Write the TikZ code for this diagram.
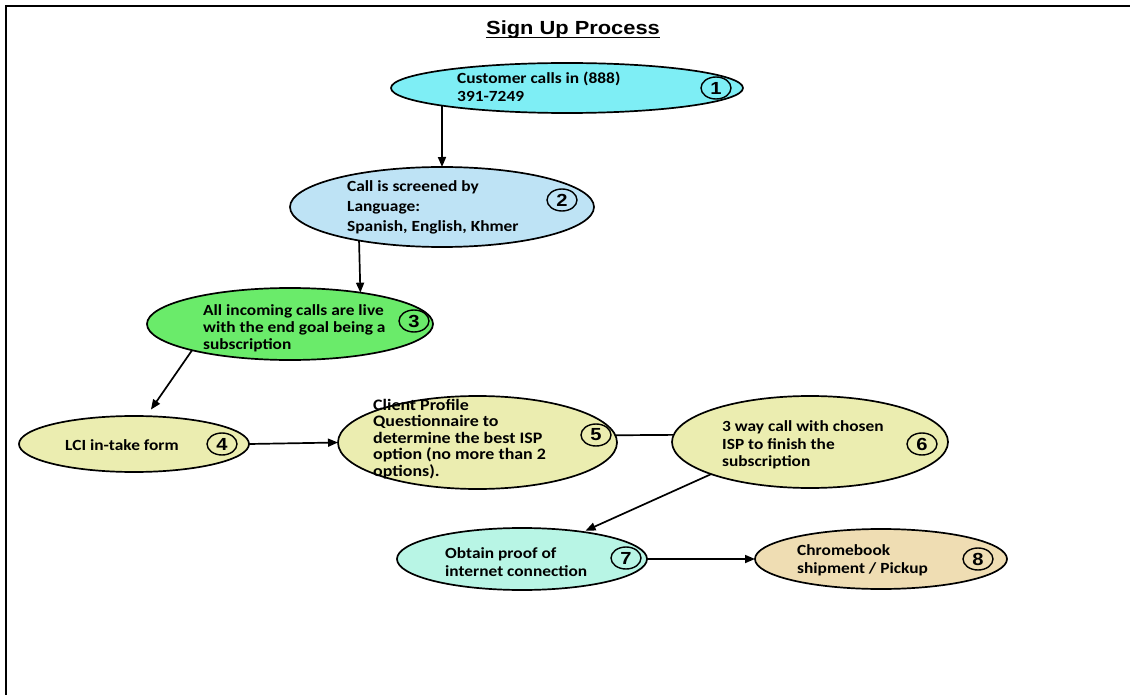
\documentclass[tikz,border=0pt]{standalone}
\usepackage{fontspec}
\setmainfont{Carlito}[FakeStretch=1.12]
\newfontfamily\headfont{Liberation Sans}[FakeStretch=1.15]
\usetikzlibrary{shapes.geometric,arrows.meta}

\definecolor{stepcyan}{HTML}{7EEEF5}
\definecolor{stepblue}{HTML}{BEE3F5}
\definecolor{stepgreen}{HTML}{6AEB6A}
\definecolor{stepolive}{HTML}{EBEDB0}
\definecolor{stepteal}{HTML}{B8F5E5}
\definecolor{steptan}{HTML}{EFDDB3}

\tikzset{
  stage/.style={ellipse, draw=black, line width=1.7pt, inner sep=0pt, outer sep=0pt},
  txt/.style={anchor=west, align=left, inner sep=0pt,
    font=\bfseries\fontsize{15.5}{18}\selectfont},
  num/.style={ellipse, draw=black, line width=1.4pt, fill=none, inner sep=0pt,
    minimum width=30pt, minimum height=22pt,
    font=\headfont\bfseries\fontsize{17.5}{17.5}\selectfont},
  arr/.style={line width=1.7pt, -{Triangle[length=10pt,width=8pt]}},
  link/.style={line width=1.7pt}
}

\begin{document}
\begin{tikzpicture}[x=1pt,y=-1pt]
  \useasboundingbox (0,0) rectangle (1130,695);
  \fill[white] (0,0) rectangle (1130,695);

  % page frame (top and left edges)
  \draw[line width=1.8pt] (1130,6) -- (6,6) -- (6,695);

  % heading
  \node[inner sep=0pt, font=\headfont\bfseries\fontsize{19}{19}\selectfont] (title) at (573,30) {Sign Up Process};
  \draw[line width=1.5pt] ([yshift=-2.8pt]title.base west) -- ([yshift=-2.8pt]title.base east);

  % process stages
  \node[stage, fill=stepcyan,  minimum width=352pt, minimum height=50pt] (e1) at (567,88) {};
  \node[stage, fill=stepblue,  minimum width=304pt, minimum height=80pt] (e2) at (442,207) {};
  \node[stage, fill=stepgreen, minimum width=286pt, minimum height=72pt] (e3) at (290,324) {};
  \node[stage, fill=stepolive, minimum width=230pt, minimum height=56pt] (e4) at (134,444) {};
  \node[stage, fill=stepolive, minimum width=279pt, minimum height=93pt] (e5) at (477.5,442.5) {};
  \node[stage, fill=stepolive, minimum width=276pt, minimum height=92pt] (e6) at (810,442) {};
  \node[stage, fill=stepteal,  minimum width=250pt, minimum height=62pt] (e7) at (522,559) {};
  \node[stage, fill=steptan,   minimum width=252pt, minimum height=60pt] (e8) at (881,559) {};

  % stage texts
  \node[txt] (t1) at (457,87) {Customer calls in (888)\\391-7249};
  \node[txt, font=\bfseries\fontsize{15.5}{20}\selectfont] (t2) at (347,207) {Call is screened by\\Language:\\Spanish, English, Khmer};
  \node[txt, font=\bfseries\fontsize{15.5}{17}\selectfont] (t3) at (203,328) {All incoming calls are live\\with the end goal being a\\subscription};
  \node[txt] (t4) at (65,445) {LCI in-take form};
  \node[txt, font=\bfseries\fontsize{16}{16.4}\selectfont] (t5) at (373,439) {Client Profile\\Questionnaire to\\determine the best ISP\\option (no more than 2\\options).};
  \node[txt, font=\bfseries\fontsize{15.5}{17.5}\selectfont] (t6) at (722,445) {3 way call with chosen\\ISP to finish the\\subscription};
  \node[txt] (t7) at (445,562) {Obtain proof of\\internet connection};
  \node[txt, font=\bfseries\fontsize{15.5}{18}\selectfont] (t8) at (797,560) {Chromebook\\shipment / Pickup};

  % step numbers
  \node[num] (n1) at (716,88)  {1};
  \node[num] (n2) at (562,200) {2};
  \node[num] (n3) at (414,321) {3};
  \node[num] (n4) at (222,444) {4};
  \node[num] (n5) at (596,435) {5};
  \node[num] (n6) at (922,444) {6};
  \node[num] (n7) at (626,558) {7};
  \node[num] (n8) at (978,559) {8};

  % connectors
  \draw[arr] (e1.188) -- (e2.north);
  \draw[arr] (e2.202.3) -- (e3.24.2);
  \draw[arr, shorten >=8pt] (e3.195) -- (e4.66);
  \draw[arr] (e4.east) -- (e5.west);
  \draw[link] (e5.3) -- (e6.177.5);
  \draw[arr, shorten >=3pt] (e6.198.3) -- (e7.24.4);
  \draw[arr] (e7.east) -- (e8.west);
\end{tikzpicture}
\end{document}
